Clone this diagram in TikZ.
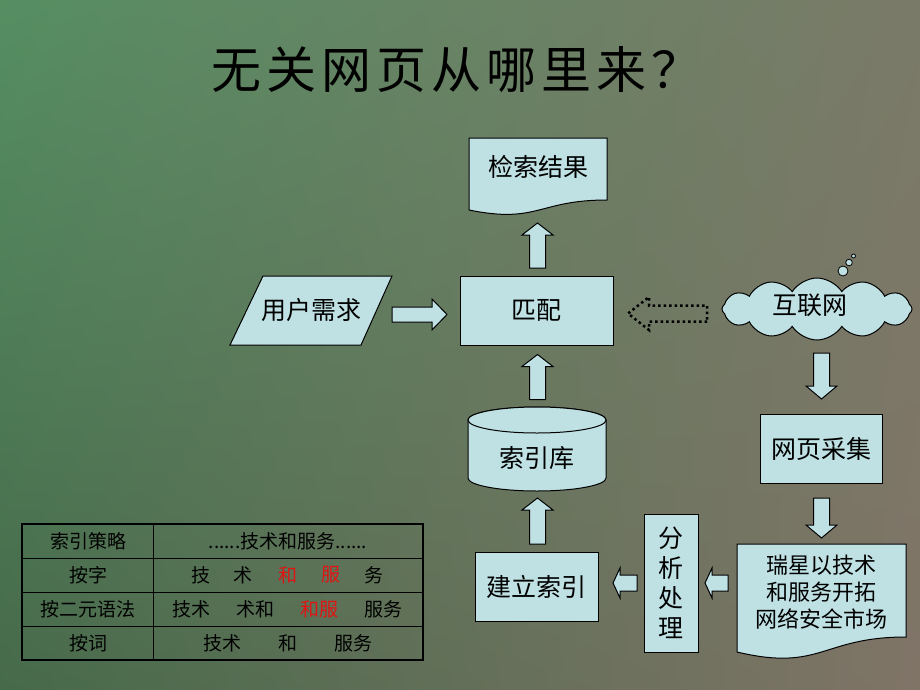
\documentclass[tikz,border=0pt]{standalone}
\usepackage{fontspec}
\newfontfamily\cjk{Noto Sans CJK SC}
\newfontfamily\cjktitle[LetterSpace=10]{Noto Sans CJK SC}
\usetikzlibrary{shapes.symbols,shadings}
\definecolor{boxc}{RGB}{191,225,228}
\definecolor{redc}{RGB}{225,20,20}
\definecolor{bgul}{RGB}{86,142,98}
\definecolor{bgur}{RGB}{122,122,104}
\definecolor{bgll}{RGB}{70,106,74}
\definecolor{bglr}{RGB}{128,116,103}
% #1 style, #2 x, #3 y, #4 rotation, #5 length, #6 width, #7 shaft, #8 head length
\newcommand\blockarrow[8]{%
  \draw[#1, shift={(#2,#3)}, rotate=#4]
    ({-#5/2},{-#7/2}) -- ({#5/2-#8},{-#7/2}) -- ({#5/2-#8},{-#6/2}) -- ({#5/2},0)
    -- ({#5/2-#8},{#6/2}) -- ({#5/2-#8},{#7/2}) -- ({-#5/2},{#7/2}) -- cycle;}
\begin{document}
\begin{tikzpicture}[x=1pt,y=1pt,yscale=-1,
  box/.style={draw=black, line width=1pt, fill=boxc},
  txt/.style={font=\cjk\fontsize{25pt}{29pt}\selectfont, text=black},
  tbl/.style={font=\cjk\fontsize{19pt}{22pt}\selectfont, text=black},
  hot/.style={tbl, text=redc},
  blockarr/.style={draw=black, line width=1pt, fill=boxc},
  dotarr/.style={draw=black, line width=2.5pt, dash pattern=on 2.5pt off 3pt}]
\useasboundingbox (0,0) rectangle (920,690);
\shade[upper left=bgul, upper right=bgur, lower left=bgll, lower right=bglr] (0,0) rectangle (920,690);

% title
\node[font=\cjktitle\fontsize{50pt}{56pt}\selectfont] (title) at (456,70) {无关网页从哪里来？};

% search results (document shape)
\draw[box] (469,138) -- (607,138) -- (607,200) .. controls (538,200) and (538,224) .. (469,210) -- cycle;
\node[txt] (jg) at (538,167) {检索结果};

% user request (parallelogram)
\draw[box] (263,276) -- (392,276) -- (361,345) -- (230,345) -- cycle;
\node[txt] (yh) at (311,310) {用户需求};

% match
\node[box, txt, minimum width=153pt, minimum height=69pt, inner sep=0pt] (pp) at (536.5,310.5) {匹配};

% internet cloud
\node[cloud, box, cloud puffs=12, cloud puff arc=115, aspect=3.1, inner sep=0pt,
      minimum width=190pt, minimum height=62pt] (hl) at (817,309) {};
\node[txt] (hlt) at (810,305) {互联网};
\draw[box, line width=0.8pt] (843,271) circle[radius=5];
\draw[box, line width=0.8pt] (849,262.5) circle[radius=3.3];
\draw[box, line width=0.8pt] (853.5,256) circle[radius=2];

% page crawl
\node[box, txt, minimum width=122pt, minimum height=69pt, inner sep=0pt] (wy) at (821,448.5) {网页采集};

% page content document
\draw[box] (737,544) -- (906,544) -- (906,637) .. controls (821.5,637) and (821.5,672) .. (737,652) -- cycle;
\node[txt, font=\cjk\fontsize{22pt}{27pt}\selectfont, align=center] (rx) at (821.5,592) {瑞星以技术\\和服务开拓\\网络安全市场};

% analysis
\node[box, minimum width=54pt, minimum height=138pt, inner sep=0pt, align=center,
      font=\cjk\fontsize{25pt}{30pt}\selectfont] (fx) at (671,583) {分\\析\\处\\理};

% build index
\node[box, txt, minimum width=123pt, minimum height=69pt, inner sep=0pt] (jl) at (536.5,586.5) {建立索引};

% index database (cylinder)
\draw[box] (468,420) -- (468,478) arc[start angle=180, end angle=0, x radius=69, y radius=13]
  -- (606,420) arc[start angle=0, end angle=-180, x radius=69, y radius=13] -- cycle;
\draw[box] (537,420) ellipse[x radius=69, y radius=13];
\node[txt] (sy) at (537,458) {索引库};

% block arrows
\blockarrow{blockarr}{537.5}{245.5}{-90}{45}{31}{16}{12}
\blockarrow{blockarr}{537.5}{377}{-90}{45}{31}{16}{12}
\blockarrow{blockarr}{537.5}{521}{-90}{46}{31}{16}{12}
\blockarrow{blockarr}{419.5}{314.5}{0}{55}{31}{15}{15}
\blockarrow{blockarr}{821.5}{376}{90}{46}{31}{16}{13}
\blockarrow{blockarr}{821.5}{518}{90}{40}{31}{16}{13}
\blockarrow{blockarr}{625}{583}{180}{24}{30}{16}{7}
\blockarrow{blockarr}{716.5}{583}{180}{23}{30}{16}{7}
\blockarrow{dotarr}{667.5}{313.5}{180}{79}{33}{16}{21}

% table
\draw[line width=1pt] (153,524) -- (153,660);
\draw[line width=1pt] (22,558) -- (423,558) (22,592) -- (423,592) (22,626) -- (423,626);
\draw[line width=2.5pt] (22,524) rectangle (423,660);
\node[tbl] (a1) at (88,541) {索引策略};
\node[tbl] (a2) at (88,575) {按字};
\node[tbl] (a3) at (88,609) {按二元语法};
\node[tbl] (a4) at (88,643) {按词};
\node[tbl] (b1) at (288,541) {......技术和服务......};
\node[tbl] (c1) at (201,575) {技};
\node[tbl] (c2) at (243,575) {术};
\node[hot] (c3) at (288,575) {和};
\node[hot] (c4) at (331,575) {服};
\node[tbl] (c5) at (374,575) {务};
\node[tbl] (d1) at (191,609) {技术};
\node[tbl] (d2) at (255,609) {术和};
\node[hot] (d3) at (319,609) {和服};
\node[tbl] (d4) at (383,609) {服务};
\node[tbl] (e1) at (222,643) {技术};
\node[tbl] (e2) at (288,643) {和};
\node[tbl] (e3) at (353,643) {服务};
\end{tikzpicture}
\end{document}
